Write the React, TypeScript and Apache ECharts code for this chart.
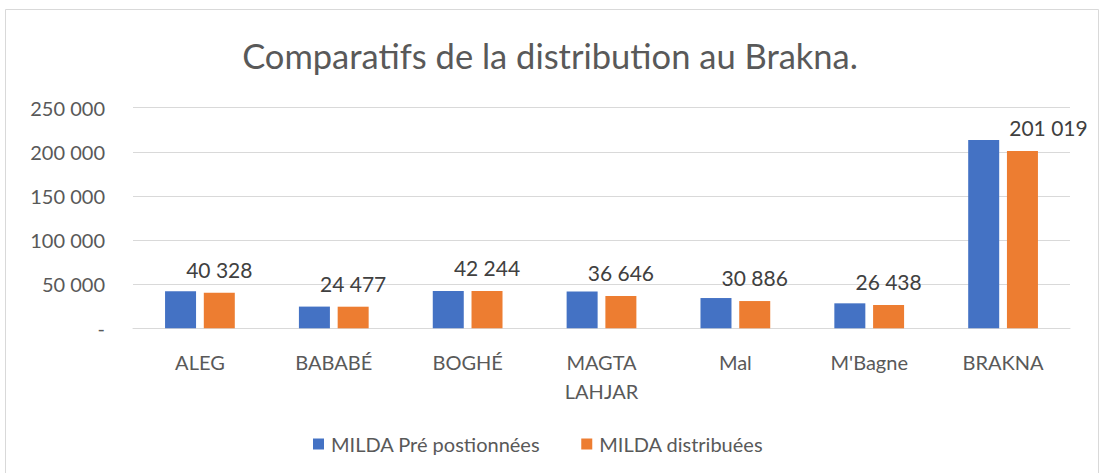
import React, { useEffect, useRef } from "react";
import * as echarts from "echarts";

const categories = ["ALEG", "BABABÉ", "BOGHÉ", "MAGTA\nLAHJAR", "Mal", "M'Bagne", "BRAKNA"];
const seriesNames = ["MILDA Pré postionnées", "MILDA distribuées"];
const prePositioned = [42000, 24600, 42400, 41800, 34300, 28300, 213400];
const distributed = [40328, 24477, 42244, 36646, 30886, 26438, 201019];
const yTicks = { min: 0, max: 250000, interval: 50000 };

const FONT = "Lato";

function fmt(n: number): string {
  return String(Math.round(n)).replace(/\B(?=(\d{3})+(?!\d))/g, " ");
}

export default function App() {
  const ref = useRef<HTMLDivElement>(null);
  useEffect(() => {
    if (!ref.current) return;
    const chart = echarts.init(ref.current, undefined, { renderer: "svg" });
    const lastIdx = distributed.length - 1;
    chart.setOption({
      animation: false,
      backgroundColor: "#ffffff",
      textStyle: { fontFamily: FONT },
      title: {
        text: "Comparatifs de la distribution au Brakna.",
        left: "center",
        top: 33,
        textStyle: { fontFamily: FONT, fontSize: 34.5, fontWeight: "normal", color: "#595959" },
      },
      graphic: [
        {
          type: "rect",
          shape: { x: 5.5, y: 9.5, width: 1093, height: 500 },
          style: { fill: "none", stroke: "#d9d9d9", lineWidth: 1 },
          silent: true,
        },
      ],
      legend: {
        left: 308,
        top: 429,
        itemWidth: 11,
        itemHeight: 11,
        itemGap: 41,
        icon: "rect",
        textStyle: { fontFamily: FONT, fontSize: 20, color: "#595959", padding: [0, 0, 0, 2] },
        data: seriesNames,
      },
      grid: { left: 133, right: 30, top: 107.7, bottom: 144.7, containLabel: false },
      xAxis: {
        type: "category",
        data: categories,
        axisLine: { lineStyle: { color: "#d9d9d9", width: 1 } },
        axisTick: { show: false },
        axisLabel: {
          interval: 0,
          margin: 19,
          fontFamily: FONT,
          fontSize: 20,
          lineHeight: 29,
          color: "#595959",
        },
      },
      yAxis: {
        type: "value",
        min: yTicks.min,
        max: yTicks.max,
        interval: yTicks.interval,
        axisLine: { show: false },
        axisTick: { show: false },
        splitLine: { lineStyle: { color: "#d9d9d9", width: 1 } },
        axisLabel: {
          margin: 28,
          fontFamily: FONT,
          fontSize: 20,
          color: "#595959",
          formatter: (v: number) => (v === 0 ? "-" : fmt(v)),
        },
      },
      series: [
        {
          name: seriesNames[0],
          type: "bar",
          data: prePositioned,
          barWidth: 31,
          barGap: "25%",
          itemStyle: { color: "#4472C4" },
        },
        {
          name: seriesNames[1],
          type: "bar",
          data: distributed.map((v, i) =>
            i === lastIdx ? { value: v, label: { offset: [26, 0] } } : v
          ),
          barWidth: 31,
          barGap: "25%",
          itemStyle: { color: "#ED7D31" },
          label: {
            show: true,
            position: "top",
            distance: 13,
            fontFamily: FONT,
            fontSize: 21,
            color: "#404040",
            formatter: (p: any) => fmt(p.value),
          },
        },
      ],
    });
    return () => chart.dispose();
  }, []);
  return (
    <div
      ref={ref}
      style={{ position: "fixed", left: 0, top: 0, width: 1100, height: 473, background: "#fff" }}
    />
  );
}
